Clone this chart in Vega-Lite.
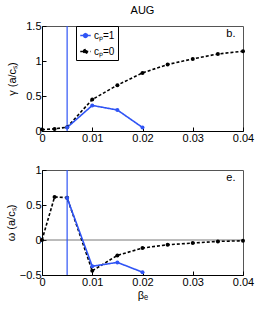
{
  "$schema": "https://vega.github.io/schema/vega-lite/v6.json",
  "background": "white",
  "padding": {"left": 4, "top": 4, "right": 0, "bottom": 0},
  "spacing": 19,
  "config": {
    "font": "Liberation Sans",
    "view": {"stroke": "#555555", "strokeWidth": 1},
    "axis": {
      "grid": false, "domain": true, "domainColor": "black", "tickSize": -4, "tickColor": "black",
      "labelFont": "Liberation Sans", "labelFontSize": 11, "labelColor": "black",
      "titleFont": "Liberation Sans", "titleFontSize": 11, "titleFontWeight": "normal", "titleColor": "black",
      "labelPadding": 5, "labelOverlap": false, "labelFlush": false, "labelBound": false
    },
    "title": {"font": "Liberation Sans", "fontSize": 11, "fontWeight": "normal", "color": "black"}
  },
  "datasets": {
    "gamma": [
      {"beta": 0, "value": 0.02, "cp": "cₚ=0"},
      {"beta": 0.0025, "value": 0.03, "cp": "cₚ=0"},
      {"beta": 0.005, "value": 0.055, "cp": "cₚ=0"},
      {"beta": 0.01, "value": 0.45, "cp": "cₚ=0"},
      {"beta": 0.015, "value": 0.655, "cp": "cₚ=0"},
      {"beta": 0.02, "value": 0.83, "cp": "cₚ=0"},
      {"beta": 0.025, "value": 0.95, "cp": "cₚ=0"},
      {"beta": 0.03, "value": 1.03, "cp": "cₚ=0"},
      {"beta": 0.035, "value": 1.1, "cp": "cₚ=0"},
      {"beta": 0.04, "value": 1.14, "cp": "cₚ=0"},
      {"beta": 0.005, "value": 0.05, "cp": "cₚ=1"},
      {"beta": 0.01, "value": 0.365, "cp": "cₚ=1"},
      {"beta": 0.015, "value": 0.3, "cp": "cₚ=1"},
      {"beta": 0.02, "value": 0.05, "cp": "cₚ=1"}
    ],
    "omega": [
      {"beta": 0, "value": 0, "cp": "cₚ=0"},
      {"beta": 0.0025, "value": 0.615, "cp": "cₚ=0"},
      {"beta": 0.005, "value": 0.605, "cp": "cₚ=0"},
      {"beta": 0.01, "value": -0.44, "cp": "cₚ=0"},
      {"beta": 0.015, "value": -0.22, "cp": "cₚ=0"},
      {"beta": 0.02, "value": -0.115, "cp": "cₚ=0"},
      {"beta": 0.025, "value": -0.068, "cp": "cₚ=0"},
      {"beta": 0.03, "value": -0.044, "cp": "cₚ=0"},
      {"beta": 0.035, "value": -0.02, "cp": "cₚ=0"},
      {"beta": 0.04, "value": -0.011, "cp": "cₚ=0"},
      {"beta": 0.005, "value": 0.6, "cp": "cₚ=1"},
      {"beta": 0.01, "value": -0.375, "cp": "cₚ=1"},
      {"beta": 0.015, "value": -0.32, "cp": "cₚ=1"},
      {"beta": 0.02, "value": -0.46, "cp": "cₚ=1"}
    ],
    "vline": [{"beta": 0.005}],
    "hline": [{"value": 0}],
    "labelB": [{"beta": 0.0376, "value": 1.38, "t": "b."}],
    "labelE": [{"beta": 0.0376, "value": 0.88, "t": "e."}]
  },
  "vconcat": [
    {
      "width": 201, "height": 105,
      "title": {"text": "AUG", "offset": 4},
      "encoding": {
        "x": {"field": "beta", "type": "quantitative", "scale": {"domain": [0, 0.04], "nice": false}, "axis": {"values": [0, 0.01, 0.02, 0.03, 0.04], "title": null, "format": "~g"}},
        "y": {"field": "value", "type": "quantitative", "scale": {"domain": [0, 1.5], "nice": false}, "axis": {"values": [0, 0.5, 1, 1.5], "title": "γ (a/cₛ)", "titlePadding": 8, "format": "~g"}}
      },
      "layer": [
        {
          "data": {"name": "vline"},
          "mark": {"type": "rule", "color": "#2f54f5", "strokeWidth": 1.2},
          "encoding": {"y": {"value": 0}, "y2": {"value": 105}}
        },
        {
          "data": {"name": "gamma"},
          "mark": {"type": "line", "strokeWidth": 1.6},
          "encoding": {
            "color": {"field": "cp", "type": "nominal", "scale": {"domain": ["cₚ=1", "cₚ=0"], "range": ["#2f54f5", "black"]},
              "legend": {"title": null, "orient": "none", "legendX": 34, "legendY": 0, "strokeColor": "black", "fillColor": "white", "padding": 3, "rowPadding": 4, "labelOffset": 2,
                "labelFont": "Liberation Sans", "labelFontSize": 10, "labelColor": "black", "symbolType": "M-1,0L1,0M-0.35,0A0.35,0.35 0 1,1 0.35,0A0.35,0.35 0 1,1 -0.35,0", "symbolSize": 110, "symbolStrokeWidth": 1.6,
                "encode": {"symbols": {"update": {"fill": {"scale": "color", "field": "value"}}}}}},
            "strokeDash": {"field": "cp", "type": "nominal", "scale": {"domain": ["cₚ=1", "cₚ=0"], "range": [[1, 0], [3, 2]]}, "legend": null}
          }
        },
        {
          "data": {"name": "gamma"},
          "mark": {"type": "circle", "opacity": 1, "size": 16},
          "encoding": {
            "color": {"field": "cp", "type": "nominal", "legend": null}
          }
        },
        {
          "data": {"name": "labelB"},
          "mark": {"type": "text", "fontSize": 11, "font": "Liberation Sans", "color": "black"},
          "encoding": {"text": {"field": "t"}}
        }
      ]
    },
    {
      "width": 201, "height": 105,
      "encoding": {
        "x": {"field": "beta", "type": "quantitative", "scale": {"domain": [0, 0.04], "nice": false}, "axis": {"values": [0, 0.01, 0.02, 0.03, 0.04], "title": "βₑ", "titlePadding": 2, "format": "~g"}},
        "y": {"field": "value", "type": "quantitative", "scale": {"domain": [-0.5, 1], "nice": false}, "axis": {"values": [-0.5, 0, 0.5, 1], "title": "ω (a/cₛ)", "titlePadding": 3, "format": "~g"}}
      },
      "layer": [
        {
          "data": {"name": "hline"},
          "mark": {"type": "rule", "color": "#555555", "strokeWidth": 0.8},
          "encoding": {"x": {"value": 0}, "x2": {"value": 201}}
        },
        {
          "data": {"name": "vline"},
          "mark": {"type": "rule", "color": "#2f54f5", "strokeWidth": 1.2},
          "encoding": {"y": {"value": 0}, "y2": {"value": 105}}
        },
        {
          "data": {"name": "omega"},
          "mark": {"type": "line", "strokeWidth": 1.6},
          "encoding": {
            "color": {"field": "cp", "type": "nominal", "scale": {"domain": ["cₚ=1", "cₚ=0"], "range": ["#2f54f5", "black"]}, "legend": null},
            "strokeDash": {"field": "cp", "type": "nominal", "scale": {"domain": ["cₚ=1", "cₚ=0"], "range": [[1, 0], [3, 2]]}, "legend": null}
          }
        },
        {
          "data": {"name": "omega"},
          "mark": {"type": "circle", "opacity": 1, "size": 16},
          "encoding": {
            "color": {"field": "cp", "type": "nominal", "legend": null}
          }
        },
        {
          "data": {"name": "labelE"},
          "mark": {"type": "text", "fontSize": 11, "font": "Liberation Sans", "color": "black"},
          "encoding": {"text": {"field": "t"}}
        }
      ]
    }
  ],
  "resolve": {"scale": {"color": "shared", "strokeDash": "shared"}}
}
